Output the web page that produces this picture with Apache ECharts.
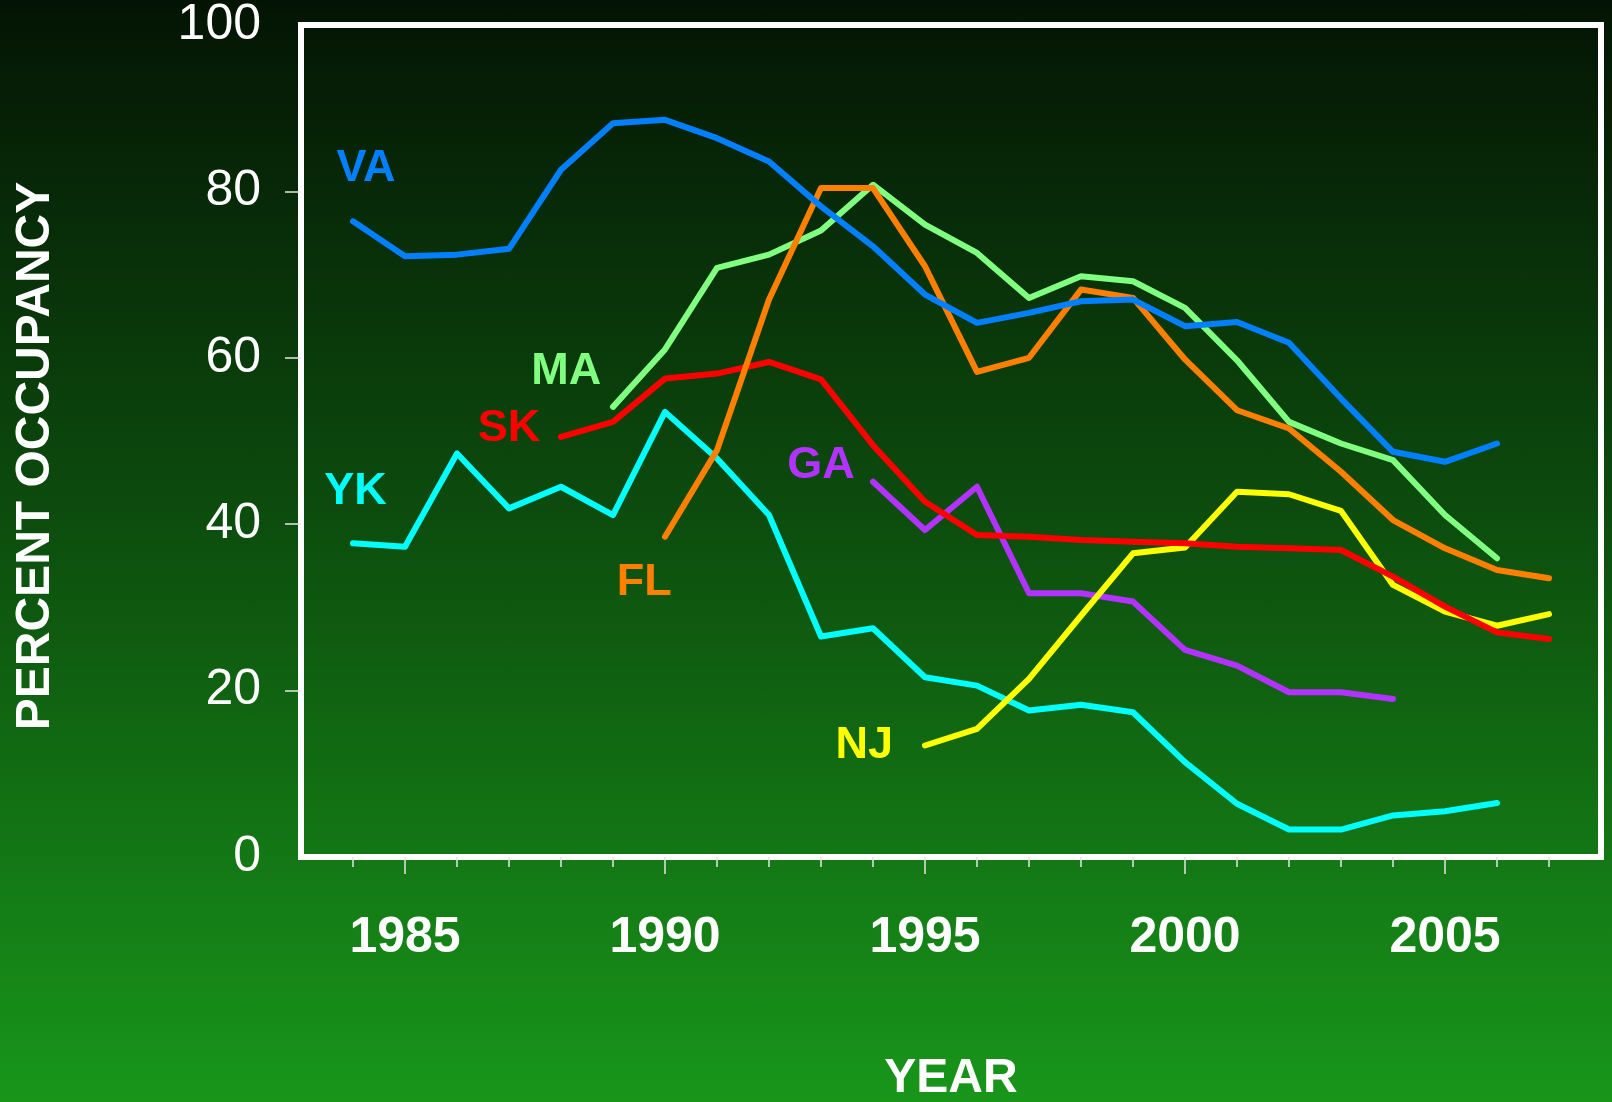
<!DOCTYPE html>
<html>
<head>
<meta charset="utf-8">
<title>Percent occupancy</title>
<script src="https://cdn.jsdelivr.net/npm/echarts@6/dist/echarts.min.js"></script>
<style>
  html, body { margin: 0; padding: 0; }
  #chart {
    width: 1612px;
    height: 1102px;
    background: linear-gradient(to bottom, #041404 0%, #0c4a0d 45%, #18961a 100%);
  }
</style>
</head>
<body>
<div id="chart"></div>
<script>
// data
const minorYears = [1984, 1985, 1986, 1987, 1988, 1989, 1990, 1991, 1992, 1993, 1994, 1995,
  1996, 1997, 1998, 1999, 2000, 2001, 2002, 2003, 2004, 2005, 2006, 2007]
const majorYears = [1985, 1990, 1995, 2000, 2005]
const yTicks = [20, 40, 60, 80]

const vaStart = 1984
const vaVals = [76.4, 72.2, 72.4, 73.1, 82.6, 88.2, 88.6, 86.4, 83.6, 78.2, 73.4, 67.6,
  64.2, 65.4, 66.8, 67.0, 63.8, 64.3, 61.8, 55.1, 48.7, 47.5, 49.7]
const maStart = 1989
const maVals = [54.1, 61.0, 70.8, 72.4, 75.3, 80.8, 76.0, 72.6, 67.2, 69.8, 69.2, 66.0,
  59.7, 52.3, 49.7, 47.7, 41.1, 35.9]
const skStart = 1988
const skVals = [50.5, 52.3, 57.5, 58.1, 59.5, 57.4, 49.5, 42.7, 38.7, 38.5, 38.1, 37.9,
  37.7, 37.3, 37.1, 36.9, 33.7, 30.1, 27.0, 26.2]
const ykStart = 1984
const ykVals = [37.7, 37.3, 48.5, 41.9, 44.5, 41.1, 53.5, 47.9, 41.1, 26.5, 27.5, 21.6,
  20.6, 17.6, 18.3, 17.4, 11.4, 6.4, 3.3, 3.3, 5.0, 5.5, 6.5]
const gaStart = 1994
const gaVals = [45.1, 39.3, 44.5, 31.7, 31.7, 30.7, 24.9, 23.0, 19.8, 19.8, 19.0]
const flStart = 1990
const flVals = [38.5, 48.9, 67.0, 80.4, 80.4, 71.0, 58.3, 60.0, 68.2, 67.2, 59.8, 53.7,
  51.5, 46.3, 40.5, 37.1, 34.5, 33.5]
const njStart = 1995
const njVals = [13.4, 15.4, 21.4, 29.0, 36.5, 37.2, 43.9, 43.6, 41.6, 32.7, 29.5, 27.8, 29.2]

// where each state name sits, in [year, percent]
const labelPos = {
  VA: [1984.25, 82.7],
  MA: [1988.1, 58.35],
  SK: [1987.0, 51.5],
  YK: [1984.05, 43.9],
  GA: [1993.0, 47.1],
  FL: [1989.6, 33.0],
  NJ: [1993.83, 13.4],
}

const FONT = "'Liberation Sans', Arial, Helvetica, sans-serif"

function pairs(start, vals) {
  return vals.map((v, i) => [start + i, v])
}

function makeSeries(name, start, vals, color) {
  return {
    name: name,
    type: 'line',
    data: pairs(start, vals),
    showSymbol: false,
    symbol: 'none',
    silent: true,
    lineStyle: { color: color, width: 6, cap: 'round', join: 'round' },
    markPoint: {
      symbol: 'circle',
      symbolSize: 0,
      silent: true,
      label: {
        show: true,
        position: 'inside',
        formatter: name,
        color: color,
        fontSize: 45,
        fontWeight: 'bold',
        fontFamily: FONT,
      },
      data: [{ coord: labelPos[name] }],
    },
  }
}

const chart = echarts.init(document.getElementById('chart'))

// 绘制图表
chart.setOption({
  animation: false,
  backgroundColor: 'transparent',
  textStyle: { fontFamily: FONT },
  grid: {
    left: 301,
    top: 21,
    width: 1300,
    height: 836,
    show: true,
    borderColor: '#ffffff',
    borderWidth: 6,
    backgroundColor: 'transparent',
  },
  xAxis: [
    {
      type: 'value',
      min: 1983,
      max: 2008,
      axisLine: { show: false },
      splitLine: { show: false },
      axisTick: {
        show: true,
        customValues: minorYears,
        length: 10,
        lineStyle: { color: '#e6e6e6', width: 1.5 },
      },
      axisLabel: {
        show: true,
        customValues: majorYears,
        formatter: (v) => String(v),
        margin: 56,
        color: '#ffffff',
        fontSize: 50,
        fontWeight: 'bold',
        fontFamily: FONT,
      },
    },
    {
      type: 'value',
      min: 1983,
      max: 2008,
      position: 'bottom',
      axisLine: { show: false },
      splitLine: { show: false },
      axisTick: {
        show: true,
        customValues: majorYears,
        length: 17,
        lineStyle: { color: '#e6e6e6', width: 1.5 },
      },
      axisLabel: { show: false },
    },
  ],
  yAxis: {
    type: 'value',
    min: 0,
    max: 100,
    interval: 20,
    axisLine: { show: false },
    splitLine: { show: false },
    axisTick: {
      show: true,
      customValues: yTicks,
      length: 16,
      lineStyle: { color: '#e6e6e6', width: 1.5 },
    },
    axisLabel: {
      margin: 40,
      color: '#ffffff',
      fontSize: 50,
      fontFamily: FONT,
      padding: [12, 0, 0, 0],
    },
  },
  graphic: [
    {
      type: 'text',
      x: 36,
      y: 456,
      rotation: Math.PI / 2,
      silent: true,
      style: {
        text: 'PERCENT OCCUPANCY',
        fill: '#ffffff',
        font: 'bold 48px ' + FONT,
        align: 'center',
        verticalAlign: 'middle',
      },
    },
    {
      type: 'text',
      x: 951,
      y: 1079,
      silent: true,
      style: {
        text: 'YEAR',
        fill: '#ffffff',
        font: 'bold 48px ' + FONT,
        align: 'center',
        verticalAlign: 'middle',
      },
    },
  ],
  series: [
    makeSeries('YK', ykStart, ykVals, '#00ffff'),
    makeSeries('GA', gaStart, gaVals, '#b233ff'),
    makeSeries('NJ', njStart, njVals, '#ffff00'),
    makeSeries('SK', skStart, skVals, '#ff0000'),
    makeSeries('MA', maStart, maVals, '#80ff80'),
    makeSeries('FL', flStart, flVals, '#ff8000'),
    makeSeries('VA', vaStart, vaVals, '#0080ff'),
  ],
})
</script>
</body>
</html>
